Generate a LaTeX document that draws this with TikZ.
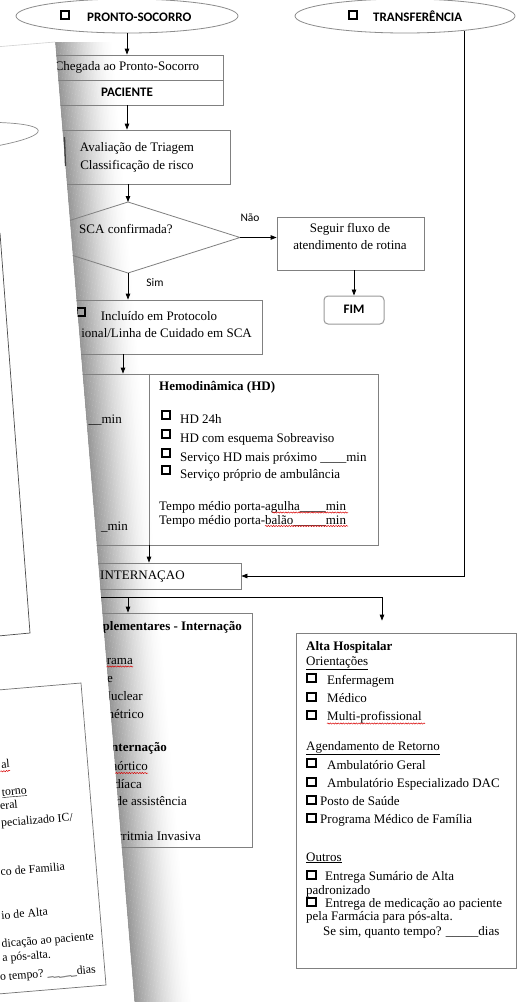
\documentclass[tikz,border=0pt]{standalone}
\usepackage{fontspec}
\setmainfont{Liberation Serif}
\newfontfamily\calfont{Carlito}
\usetikzlibrary{arrows.meta,shapes.geometric,decorations.pathmorphing}

\tikzset{
  txt/.style={inner sep=0pt, text height=9pt, text depth=3pt, font=\fontsize{13}{15}\selectfont},
  btxt/.style={txt, font=\fontsize{13}{15}\selectfont\bfseries},
  lbl/.style={inner sep=0pt, text height=8.5pt, text depth=0pt, font=\fontsize{13}{15}\selectfont\calfont\bfseries},
  slbl/.style={inner sep=0pt, text height=7.5pt, text depth=0pt, font=\fontsize{11.5}{13}\selectfont\calfont},
  rect/.style={draw=black!50, line width=0.8pt, inner sep=0pt, rectangle},
  oval/.style={draw=black!45, line width=0.8pt, inner sep=0pt, ellipse},
  flow/.style={draw=black, line width=0.8pt},
  arr/.style={flow, -{Triangle[length=6pt,width=4.5pt]}},
  chk/.style={draw=black, line width=1.7pt, minimum size=8.5pt, inner sep=0pt, rectangle},
  wavy/.style={draw=red!85!black, line width=0.5pt, decorate, decoration={snake, segment length=2.6pt, amplitude=0.6pt}},
  back/.style={inner sep=0pt, text height=7pt, text depth=2pt, font=\fontsize{11.8}{14}\selectfont, rotate=4.7, anchor=east},
}

\begin{document}
\begin{tikzpicture}[x=1pt, y=-1pt]
\useasboundingbox (0,0) rectangle (518,1002);
\begin{scope}
\clip (0,0) rectangle (518,1002);
\fill[white] (0,0) rectangle (518,1002);

% shadow cast on the form by the sheet lying over its left side
\foreach \i in {0,...,39}{
  \pgfmathsetmacro\g{41*(1-\i/40)^1.6}
  \fill[black!\g] ({55+1.45*\i},42) -- ++(1.85,0) -- ++(80,968) -- ++(-1.85,0) -- cycle;
}

% ---------- flow chart ----------
\node[oval, minimum width=222pt, minimum height=34pt] (ps) at (127,16) {};
\node[chk] (psc) at (65,15) {};
\node[lbl, anchor=west] (pst) at (87,17) {PRONTO-SOCORRO};

\node[oval, minimum width=220pt, minimum height=34pt] (tr) at (405,16) {};
\node[chk] (trc) at (353,15) {};
\node[lbl, anchor=west] (trt) at (373,17) {TRANSFERÊNCIA};

\node[rect, minimum width=188pt, minimum height=25pt] (cheg) at (129,67.5) {};
\node[rect, minimum width=188pt, minimum height=25pt] (pac) at (129,92.5) {};
\node[txt] (chegt) at (127,67) {Chegada ao Pronto-Socorro};
\node[lbl] (pact) at (127,92) {PACIENTE};

\node[rect, minimum width=186pt, minimum height=54pt] (aval) at (137,157) {};
\node[txt] (avt1) at (137,148) {Avaliação de Triagem};
\node[txt] (avt2) at (137,166) {Classificação de risco};

\coordinate (scaT) at (128,202);
\coordinate (scaR) at (240,237.5);
\coordinate (scaB) at (128,273);
\coordinate (scaL) at (16,237.5);
\draw[draw=black!50, line width=0.8pt] (scaT) -- (scaR) -- (scaB) -- (scaL) -- cycle;
\node[txt] (scat) at (126,230) {SCA confirmada?};
\node[slbl] (nao) at (250,218) {Não};
\node[slbl] (sim) at (155,283) {Sim};

\node[rect, minimum width=147pt, minimum height=53pt] (seg) at (350.5,243.5) {};
\node[txt] (segt1) at (350,229) {Seguir fluxo de};
\node[txt] (segt2) at (350,246) {atendimento de rotina};

\node[rect, draw=black!40, line width=1pt, rounded corners=4pt, minimum width=60pt, minimum height=28pt] (fim) at (354,310) {};
\node[lbl] (fimt) at (354,309) {FIM};

\node[rect, minimum width=222pt, minimum height=54pt] (inc) at (151,327) {};
\node[chk] (incc) at (81,312) {};
\node[txt] (inct1) at (159,317) {Incluído em Protocolo};
\node[txt, anchor=east] (inct2) at (252,334) {ional/Linha de Cuidado em SCA};

\node[rect, minimum width=358pt, minimum height=171pt] (hemo) at (199,459.5) {};
\coordinate (div) at (149,0);
\draw[draw=black!50, line width=0.8pt] (hemo.north -| div) -- (hemo.south -| div);
\node[txt, anchor=east] (m1) at (122,420) {\_\_min};
\node[txt, anchor=east] (m2) at (128,527) {\_min};
\node[btxt, anchor=west] (hdt) at (159,387) {Hemodinâmica (HD)};
\node[chk] (hc1) at (166,415) {};
\node[chk] (hc2) at (166,434) {};
\node[chk] (hc3) at (166,453) {};
\node[chk] (hc4) at (166,470) {};
\node[txt, anchor=west] (h1) at (180,420) {HD 24h};
\node[txt, anchor=west] (h2) at (180,439) {HD com esquema Sobreaviso};
\node[txt, anchor=west] (h3) at (180,458) {Serviço HD mais próximo \_\_\_\_min};
\node[txt, anchor=west] (h4) at (180,475) {Serviço próprio de ambulância};
\node[txt, anchor=west] (h5) at (159,507) {Tempo médio porta-agulha\_\_\_\_min};
\node[txt, anchor=west] (h6) at (159,521) {Tempo médio porta-balão\_\_\_\_\_min};
\draw[wavy] (272,512.5) -- (348,512.5);
\draw[wavy] (265,526) -- (348,526);

\node[rect, minimum width=221pt, minimum height=26pt] (intn) at (130.5,576) {};
\node[txt, anchor=west] (intt) at (100,576) {INTERNAÇAO};

\node[rect, minimum width=232pt, minimum height=234pt] (comp) at (136,730) {};
\node[btxt, anchor=east] (c0) at (242,627) {plementares - Internação};
\node[txt, anchor=east] (c1) at (133,661) {rama};
\node[txt, anchor=east] (c2) at (113,679) {e};
\node[txt, anchor=east] (c3) at (143,697) {Nuclear};
\node[txt, anchor=east] (c4) at (144,715) {métrico};
\node[btxt, anchor=east] (c5) at (167,748) {Internação};
\node[txt, anchor=east] (c6) at (148,767) {aórtico};
\node[txt, anchor=east] (c7) at (142,785) {díaca};
\node[txt, anchor=east] (c8) at (187,802) {de assistência};
\node[txt, anchor=east] (c9) at (201,837) {Arritmia Invasiva};
\draw[wavy] (104,666.5) -- (133,666.5);
\draw[wavy] (113,773) -- (148,773);

\node[rect, minimum width=220pt, minimum height=335pt] (alta) at (406,800.5) {};
\node[btxt, anchor=west] (a0) at (306,647) {Alta Hospitalar};
\node[txt, anchor=west] (a1) at (306,662) {\underline{Orientações}};
\node[chk] (ac1) at (311.5,678) {};
\node[chk] (ac2) at (311.5,697) {};
\node[chk] (ac3) at (311.5,715) {};
\node[txt, anchor=west] (a2) at (327,681) {Enfermagem};
\node[txt, anchor=west] (a3) at (327,699) {Médico};
\node[txt, anchor=west] (a4) at (327,717) {Multi-profissional};
\draw[wavy] (327,723.5) -- (425,723.5);
\node[txt, anchor=west] (a5) at (306,747) {\underline{Agendamento de Retorno}};
\node[chk] (ac4) at (311.5,763) {};
\node[chk] (ac5) at (311.5,782) {};
\node[chk] (ac6) at (311.5,800) {};
\node[chk] (ac7) at (311.5,818) {};
\node[txt, anchor=west] (a6) at (327,766) {Ambulatório Geral};
\node[txt, anchor=west] (a7) at (327,784) {Ambulatório Especializado DAC};
\node[txt, anchor=west] (a8) at (320,802) {Posto de Saúde};
\node[txt, anchor=west] (a9) at (320,820) {Programa Médico de Família};
\node[txt, anchor=west] (a10) at (306,858) {\underline{Outros}};
\node[chk] (ac8) at (311.5,875) {};
\node[chk] (ac9) at (311.5,902) {};
\node[txt, anchor=west] (a11) at (325,877) {Entrega Sumário de Alta};
\node[txt, anchor=west] (a12) at (306,891) {padronizado};
\node[txt, anchor=west] (a13) at (325,904) {Entrega de medicação ao paciente};
\node[txt, anchor=west] (a14) at (306,917) {pela Farmácia para pós-alta.};
\node[txt, anchor=west] (a15) at (323,932) {Se sim, quanto tempo? \_\_\_\_\_dias};

% connectors
\coordinate (x123) at (123,0);
\coordinate (hx) at (40,597);
\coordinate (ax) at (382,597);
\coordinate (cx) at (128,597);
\draw[arr] (ps.south) -- (ps.south |- cheg.north);
\draw[arr] (pac.south -| ps.south) -- (aval.north -| ps.south);
\draw[arr] (aval.south -| scaT) -- (scaT);
\draw[arr] (scaR) -- (seg.west |- scaR);
\draw[arr] (seg.south -| fim.north) -- (fim.north);
\draw[arr] (scaB) -- (scaB |- inc.north);
\draw[arr] (inc.south -| x123) -- (hemo.north -| x123);
\draw[arr] (hemo.south -| div) -- (intn.north -| div);
\draw[arr] (tr.-14.3) |- (intn.east);
\draw[flow] (intn.south -| hx) -- (hx) -- (ax);
\draw[arr, shorten >=12pt] (ax) -- (alta.north -| ax);
\draw[arr] (cx) -- (comp.north -| cx);

% ---------- sheet lying over the left side ----------
\fill[white] (55,42) -- (-5,47) -- (-5,1010) -- (135,1010) -- cycle;
\draw[black!18, line width=0.6pt] (55,42) -- (-5,47);
\begin{scope}[shift={(55,42)}, rotate=4.7]
  \draw[black!45, line width=0.7pt] (-135,87) ellipse [x radius=111, y radius=15];
\end{scope}
\draw[black!70, line width=0.7pt] (0,233) -- (30,633) -- (-2,636);
\draw[black!55, line width=0.7pt] (-2,690) -- (81,683) -- (106,985) -- (-2,994);
\node[back] (b1) at (10,765) {al};
\draw[wavy] (0.5,771.5) -- (10,770.7);
\node[back] (b2) at (27,791.5) {\underline{torno}};
\node[back] (b3) at (18,805.5) {eral};
\node[back] (b4) at (73,818.5) {pecializado IC/};
\node[back] (b5) at (65,868) {co de Familia};
\node[back] (b6) at (48,913) {io de Alta};
\node[back] (b7) at (94,937.5) {dicação ao paciente};
\node[back] (b8) at (51,955.5) {a pós-alta.};
\node[back] (b9) at (96,970.5) {o tempo? \_\_\_\_\_dias};
\draw[black!75, line width=1.3pt] (64.5,137) -- (65.5,166);
\end{scope}
\end{tikzpicture}
\end{document}
